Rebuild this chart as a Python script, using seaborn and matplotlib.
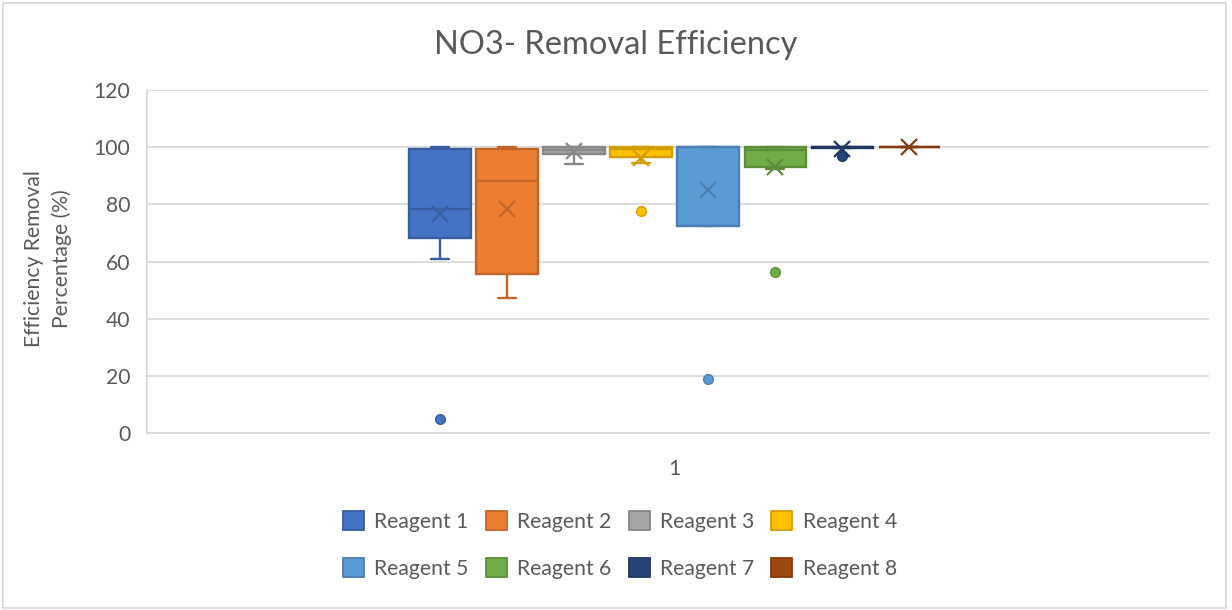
import numpy as np
import pandas as pd
import seaborn as sns
import matplotlib.pyplot as plt
import matplotlib.colors as mcolors
from matplotlib.patches import Patch, Rectangle

# values (one sample set per reagent)
reagents = ["Reagent 1", "Reagent 2", "Reagent 3", "Reagent 4",
            "Reagent 5", "Reagent 6", "Reagent 7", "Reagent 8"]
reagent_1 = [4.9, 60.8, 68.2, 78.0, 78.3, 99.4, 99.5, 100.0, 100.0]
reagent_2 = [47.3, 52.0, 55.8, 66.7, 88.2, 95.0, 99.2, 99.6, 100.0]
reagent_3 = [94.2, 97.5, 97.6, 99.0, 99.0, 100.0, 100.0, 100.0, 100.0]
reagent_4 = [77.5, 94.6, 96.6, 98.0, 99.5, 99.7, 100.0, 100.0, 100.0]
reagent_5 = [18.9, 72.5, 72.5, 100.0, 100.0, 100.0, 100.0, 100.0, 100.0]
reagent_6 = [56.3, 92.5, 93.1, 96.0, 99.0, 99.5, 99.9, 100.0, 100.0]
reagent_7 = [96.8, 99.6, 99.7, 99.8, 99.9, 100.0, 100.0, 100.0, 100.0]
reagent_8 = [100.0, 100.0, 100.0, 100.0, 100.0, 100.0, 100.0, 100.0, 100.0]
category = "1"

palette = ["#4472C4", "#ED7D31", "#A5A5A5", "#FFC000",
           "#5B9BD5", "#70AD47", "#264478", "#9E480E"]


def darker(c, f=0.82):
    r, g, b = mcolors.to_rgb(c)
    return (r * f, g * f, b * f)


values = [reagent_1, reagent_2, reagent_3, reagent_4,
          reagent_5, reagent_6, reagent_7, reagent_8]
df = pd.DataFrame({
    "group": category,
    "reagent": np.repeat(reagents, [len(v) for v in values]),
    "value": np.concatenate(values),
})

sns.set_style("white")
plt.rcParams["font.family"] = ["Lato", "DejaVu Sans"]
txt = "#595959"
grid = "#D9D9D9"
fs = 15.2

fig = plt.figure(figsize=(12.32, 6.10), dpi=100)
ax = fig.add_axes([147 / 1232, 1 - 433 / 610, (1209 - 147) / 1232, (433 - 90) / 610])

sns.boxplot(data=df, x="group", y="value", hue="reagent", hue_order=reagents,
            palette=palette, saturation=1, width=0.505, gap=0.08, whis=1.5,
            linewidth=1.7, showmeans=True, fliersize=7,
            meanprops=dict(marker="x", markersize=12, markeredgewidth=1.6),
            legend=False, ax=ax)

# excel-like colouring: darker outline for every part of a box
for cont, c in zip(ax.containers, palette):
    d = darker(c)
    for b in cont.boxes:
        b.set_facecolor(c)
        b.set_edgecolor(d)
    for ln in list(cont.medians) + list(cont.whiskers):
        ln.set_color(d)
    for ln in cont.caps:
        ln.set_color(d)
        xs = ln.get_xdata()
        m = (xs[0] + xs[1]) / 2
        ln.set_xdata([m - 0.0085, m + 0.0085])
    for ln in cont.fliers:
        ln.set_markerfacecolor(c)
        ln.set_markeredgecolor(d)
    for ln in getattr(cont, "means", []):
        ln.set_markeredgecolor(d)
        ln.set_markerfacecolor(d)

ax.set_xlim(-0.497, 0.503)
ax.set_ylim(0, 120)
ax.set_yticks(range(0, 121, 20))
ax.set_xlabel("")
ax.set_ylabel("")
ax.grid(axis="y", color=grid, linewidth=1.3)
ax.set_axisbelow(True)
for s in ["top", "right"]:
    ax.spines[s].set_visible(False)
for s in ["left", "bottom"]:
    ax.spines[s].set_color(grid)
    ax.spines[s].set_linewidth(1.3)
ax.tick_params(axis="y", length=0, pad=12, labelsize=fs, labelcolor=txt)
ax.tick_params(axis="x", length=0, pad=19, labelsize=fs, labelcolor=txt)

fig.text(616 / 1232, 1 - 45 / 610, "NO3- Removal Efficiency", ha="center", va="center",
         fontsize=23.5, color=txt)
fig.text(48 / 1232, 1 - 259 / 610, "Efficiency Removal\nPercentage (%)", rotation=90,
         ha="center", va="center", multialignment="center", fontsize=fs, color=txt,
         linespacing=1.4)

# legend fills column by column, so interleave to get two rows of four
order = [0, 4, 1, 5, 2, 6, 3, 7]
handles = [Patch(facecolor=palette[i], edgecolor=darker(palette[i]), linewidth=1.3) for i in order]
labels = [reagents[i] for i in order]
fig.legend(handles, labels, ncol=4, loc="center", bbox_to_anchor=(620 / 1232, 1 - 545 / 610),
           frameon=False, fontsize=fs, labelcolor=txt, handlelength=1.0, handleheight=1.0,
           handletextpad=0.5, columnspacing=0.8, labelspacing=1.22)

fig.patches.append(Rectangle((3 / 1232, 2 / 610), 1223 / 1232, 605 / 610, transform=fig.transFigure,
                             fill=False, edgecolor=grid, linewidth=1.3))

fig.savefig("out.png", dpi=100)
